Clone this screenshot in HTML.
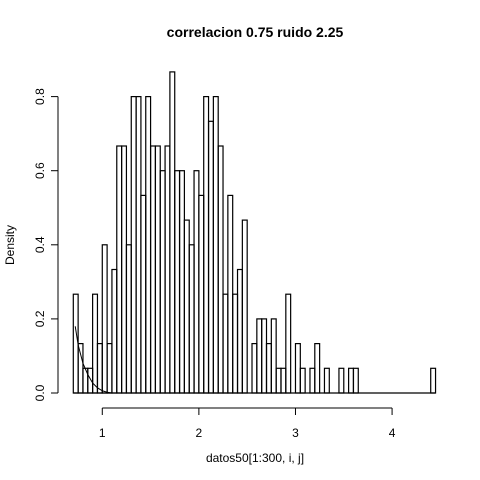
<!DOCTYPE html>
<html><head><meta charset="utf-8"><style>body{margin:0;background:#fff}svg{display:block}text{font-family:"Liberation Sans",Arial,sans-serif}</style></head>
<body>
<svg id="c" width="480" height="480"></svg>
<script>
const binStart = 0.7;
const binWidth = 0.05;
const counts = [4,2,1,1,4,2,6,2,5,10,10,6,12,12,8,12,10,10,9,10,13,9,9,7,6,9,8,12,11,12,10,4,8,4,5,7,0,2,3,3,2,3,1,1,4,0,2,1,0,1,2,0,1,0,0,1,0,1,1,0,0,0,0,0,0,0,0,0,0,0,0,0,0,0,1];
const total = 300;
const xTicks = [1,2,3,4];
const yTicks = [0,0.2,0.4,0.6,0.8];
const curveX = [0.72,0.75,0.8,0.85,0.9,0.95,1.0,1.05,1.1];
const curveY = [0.18,0.13,0.08,0.05,0.027,0.014,0.006,0.002,0.0];
const X = v => 73.3 + (v - 0.7) * 96.6;
const Y = d => 393 - d * 370.5;
const svg = document.getElementById('c');
const NS = 'http://www.w3.org/2000/svg';
function mk(t, a, txt){const e=document.createElementNS(NS,t);for(const k in a)e.setAttribute(k,a[k]);if(txt!==undefined)e.textContent=txt;svg.appendChild(e);return e;}
const bl=mk('line',{x1:X(binStart),x2:X(binStart+counts.length*binWidth),y1:Y(0),y2:Y(0),stroke:'#000','stroke-width':1.2});


counts.forEach((c,i)=>{
  const x0=X(binStart+i*binWidth), x1=X(binStart+(i+1)*binWidth), d=c/(total*binWidth);
  const r=mk('rect',{x:x0,y:Y(d),width:x1-x0,height:Y(0)-Y(d),fill:'none',stroke:'#000','stroke-width':1.2});
  
  
});
const p=mk('polyline',{points:curveX.map((v,i)=>X(v)+','+Y(curveY[i])).join(' '),fill:'none',stroke:'#000','stroke-width':1});


const xa=mk('line',{x1:X(xTicks[0]),x2:X(xTicks[xTicks.length-1]),y1:408,y2:408,stroke:'#000'});


xTicks.forEach(v=>{
  mk('line',{x1:X(v),x2:X(v),y1:408,y2:415,stroke:'#000'});
  const t=mk('text',{x:X(v),y:437,'text-anchor':'middle','font-size':12},String(v));
  
  
});
const ya=mk('line',{x1:58,x2:58,y1:Y(yTicks[0]),y2:Y(yTicks[yTicks.length-1]),stroke:'#000'});


yTicks.forEach(v=>{
  mk('line',{x1:51,x2:58,y1:Y(v),y2:Y(v),stroke:'#000'});
  const t=mk('text',{x:44,y:Y(v),'text-anchor':'middle','font-size':12,transform:`rotate(-90 44 ${Y(v)})`},v.toFixed(1));
  
  
});
</script>
<script>
(function(){const svg=document.getElementById('c');const NS='http://www.w3.org/2000/svg';
const t1=document.createElementNS(NS,'text');t1.setAttribute('x',255);t1.setAttribute('y',37);t1.setAttribute('text-anchor','middle');t1.setAttribute('font-size',14);t1.setAttribute('font-weight','bold');t1.textContent='correlacion 0.75 ruido 2.25';


svg.appendChild(t1);
const t2=document.createElementNS(NS,'text');t2.setAttribute('x',255);t2.setAttribute('y',462);t2.setAttribute('text-anchor','middle');t2.setAttribute('font-size',12);t2.textContent='datos50[1:300, i, j]';


svg.appendChild(t2);
const t3=document.createElementNS(NS,'text');t3.setAttribute('x',14);t3.setAttribute('y',245);t3.setAttribute('text-anchor','middle');t3.setAttribute('font-size',12);t3.setAttribute('transform','rotate(-90 14 245)');t3.textContent='Density';


svg.appendChild(t3);})();
</script>
</body></html>
